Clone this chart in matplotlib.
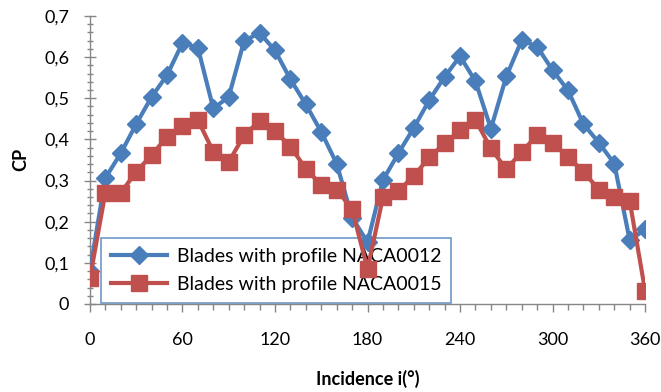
import matplotlib
matplotlib.use("Agg")
import matplotlib.pyplot as plt
from matplotlib.ticker import MultipleLocator, FuncFormatter

plt.rcParams['font.family'] = ['Lato', 'DejaVu Sans']

incidence = list(range(0, 361, 10))
cp_naca0012 = [0.08, 0.306, 0.366, 0.437, 0.503, 0.556, 0.634, 0.623, 0.475, 0.503,
               0.639, 0.659, 0.616, 0.546, 0.485, 0.418, 0.341, 0.21, 0.15, 0.301,
               0.366, 0.428, 0.495, 0.552, 0.602, 0.541, 0.426, 0.553, 0.641, 0.625,
               0.568, 0.519, 0.437, 0.392, 0.341, 0.155, 0.181]
cp_naca0015 = [0.062, 0.270, 0.270, 0.321, 0.362, 0.406, 0.432, 0.447, 0.370, 0.345,
               0.410, 0.445, 0.421, 0.382, 0.329, 0.289, 0.278, 0.230, 0.085, 0.259,
               0.275, 0.311, 0.356, 0.390, 0.422, 0.447, 0.378, 0.327, 0.370, 0.410,
               0.390, 0.358, 0.321, 0.278, 0.260, 0.250, 0.032]
labels = ["Blades with profile NACA0012", "Blades with profile NACA0015"]

blue = "#4a7ebb"
red = "#c0504d"
grey = "#868686"

fig = plt.figure(figsize=(6.61, 3.92), dpi=100)
ax = fig.add_axes([0.136, 0.2245, 0.840, 0.735])

ax.plot(incidence, cp_naca0012, color=blue, lw=3.0, marker="D", ms=9,
        markeredgecolor=blue, label=labels[0], zorder=3)
ax.plot(incidence, cp_naca0015, color=red, lw=3.0, marker="s", ms=12,
        markeredgecolor=red, label=labels[1], zorder=4)

ax.set_xlim(0, 360)
ax.set_ylim(0, 0.7)
ax.xaxis.set_major_locator(MultipleLocator(60))
ax.xaxis.set_minor_locator(MultipleLocator(10))
ax.yaxis.set_major_locator(MultipleLocator(0.1))
ax.yaxis.set_minor_locator(MultipleLocator(0.02))
ax.yaxis.set_major_formatter(FuncFormatter(
    lambda v, p: "0" if abs(v) < 1e-9 else f"{v:.1f}".replace(".", ",")))

for s in ("top", "right"):
    ax.spines[s].set_visible(False)
for s in ("left", "bottom"):
    ax.spines[s].set_color(grey)
    ax.spines[s].set_linewidth(1.0)

ax.tick_params(axis="x", which="major", direction="out", length=6, width=1,
               color=grey, pad=14, labelsize=13)
ax.tick_params(axis="x", which="minor", direction="out", length=4, width=1, color=grey)
ax.tick_params(axis="y", which="major", direction="inout", length=8, width=1,
               color=grey, pad=11, labelsize=13)
ax.tick_params(axis="y", which="minor", direction="inout", length=5, width=1, color=grey)

ax.set_xlabel("Incidence i(°)", fontsize=13, fontweight="bold", labelpad=16)
ax.set_ylabel("CP", fontsize=13, fontweight="bold", labelpad=11)

leg = ax.legend(loc="lower left", bbox_to_anchor=(0.02, 0.005), fontsize=14,
                frameon=True, fancybox=False, handlelength=2.9, borderpad=0.5,
                labelspacing=0.55, borderaxespad=0, handletextpad=0.5)
leg.get_frame().set_edgecolor(blue)
leg.get_frame().set_linewidth(1.2)
leg.set_zorder(2)

fig.savefig("out.png", dpi=100)
